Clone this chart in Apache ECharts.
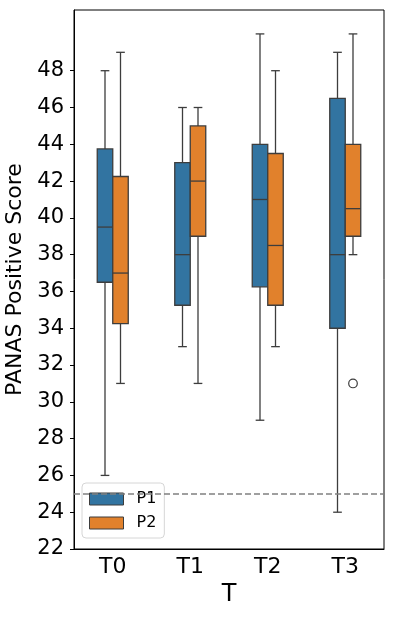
<!DOCTYPE html>
<html>
<head>
<meta charset="utf-8">
<script src="https://cdn.jsdelivr.net/npm/echarts@6/dist/echarts.min.js"></script>
<style>
  html, body { margin: 0; padding: 0; background: #fff; }
  #chart { width: 393px; height: 618px; }
</style>
</head>
<body>
<div id="chart"></div>
<script>
// box stats per time point: [min, q1, median, q3, max]
var categories = ['T0', 'T1', 'T2', 'T3'];
var p1Boxes = [
    [26, 36.5, 39.5, 43.75, 48],
    [33, 35.25, 38, 43, 46],
    [29, 36.25, 41, 44, 50],
    [24, 34, 38, 46.5, 49]
];
var p2Boxes = [
    [31, 34.25, 37, 42.25, 49],
    [31, 39, 42, 45, 46],
    [33, 35.25, 38.5, 43.5, 48],
    [38, 39, 40.5, 44, 50]
];
// outliers: [category index, value, hue index (0 = P1, 1 = P2)]
var outliers = [[3, 31, 1]];
var threshold = 25;
var yTicks = [22, 24, 26, 28, 30, 32, 34, 36, 38, 40, 42, 44, 46, 48];

var blue = '#3274a1';
var orange = '#e1812c';
var lineColor = '#3d3d3d';
var font = 'DejaVu Sans';

function toData(boxes) {
    return boxes.map(function (b, i) { return [i].concat(b); });
}

function boxRenderer(shift) {
    return function (params, api) {
        var cat = api.value(0);
        var band = api.size([1, 0])[0];
        var halfW = band * 0.1;
        var capW = halfW * 0.56;
        var cx = api.coord([cat, 0])[0] + shift * band;
        var yMin = api.coord([cat, api.value(1)])[1];
        var yQ1 = api.coord([cat, api.value(2)])[1];
        var yMed = api.coord([cat, api.value(3)])[1];
        var yQ3 = api.coord([cat, api.value(4)])[1];
        var yMax = api.coord([cat, api.value(5)])[1];
        var ls = { stroke: lineColor, lineWidth: 1.3 };
        return {
            type: 'group',
            children: [
                { type: 'line', shape: { x1: cx, y1: yQ1, x2: cx, y2: yMin }, style: ls },
                { type: 'line', shape: { x1: cx, y1: yQ3, x2: cx, y2: yMax }, style: ls },
                { type: 'line', shape: { x1: cx - capW, y1: yMin, x2: cx + capW, y2: yMin }, style: ls },
                { type: 'line', shape: { x1: cx - capW, y1: yMax, x2: cx + capW, y2: yMax }, style: ls },
                {
                    type: 'rect',
                    shape: { x: cx - halfW, y: yQ3, width: halfW * 2, height: yQ1 - yQ3 },
                    style: { fill: api.visual('color'), stroke: lineColor, lineWidth: 1.3 }
                },
                { type: 'line', shape: { x1: cx - halfW, y1: yMed, x2: cx + halfW, y2: yMed }, style: ls }
            ]
        };
    };
}

var chart = echarts.init(document.getElementById('chart'));
var option = {
    animation: false,
    backgroundColor: '#fff',
    textStyle: { fontFamily: font },
    grid: {
        left: 74, right: 9, top: 10, bottom: 69,
        show: true, borderColor: '#000', borderWidth: 1,
        outerBoundsMode: 'none'
    },
    legend: {
        orient: 'vertical',
        left: 82, top: 483,
        padding: [8, 8, 7, 7],
        itemWidth: 34, itemHeight: 12,
        itemGap: 8,
        itemTextGap: 19,
        borderColor: '#d6d6d6', borderWidth: 1, borderRadius: 4,
        backgroundColor: 'rgba(255,255,255,0.8)',
        textStyle: { fontFamily: font, fontSize: 16, color: '#000', padding: [0, 0, 0, 8] },
        data: [
            { name: 'P1', icon: 'rect', itemStyle: { color: blue, borderColor: lineColor, borderWidth: 1 } },
            { name: 'P2', icon: 'rect', itemStyle: { color: orange, borderColor: lineColor, borderWidth: 1 } }
        ]
    },
    xAxis: {
        type: 'category',
        data: categories,
        name: 'T',
        nameLocation: 'middle',
        nameGap: 32,
        nameTextStyle: { fontFamily: font, fontSize: 24, color: '#000' },
        axisLine: { lineStyle: { color: '#000', width: 1 } },
        axisTick: { alignWithLabel: true, length: 4, lineStyle: { color: '#000' } },
        axisLabel: { fontFamily: font, fontSize: 22, color: '#000', margin: 7 },
        splitLine: { show: false }
    },
    yAxis: {
        type: 'value',
        min: 22, max: 51.3,
        name: 'PANAS Positive Score',
        nameLocation: 'middle',
        nameGap: 42,
        nameTextStyle: { fontFamily: font, fontSize: 22, color: '#000' },
        axisLine: { show: true, lineStyle: { color: '#000', width: 1 } },
        axisTick: { show: true, length: 4, customValues: yTicks, lineStyle: { color: '#000' } },
        axisLabel: { fontFamily: font, fontSize: 21, color: '#000', margin: 10, customValues: yTicks },
        splitLine: { show: false }
    },
    series: [
        {
            name: 'P1',
            type: 'custom',
            itemStyle: { color: blue },
            encode: { x: 0, y: [1, 2, 3, 4, 5] },
            renderItem: boxRenderer(-0.1),
            data: toData(p1Boxes),
            markLine: {
                silent: true,
                symbol: 'none',
                label: { show: false },
                lineStyle: { color: '#808080', type: [6, 3], width: 1.5 },
                data: [{ yAxis: threshold }]
            }
        },
        {
            name: 'P2',
            type: 'custom',
            itemStyle: { color: orange },
            encode: { x: 0, y: [1, 2, 3, 4, 5] },
            renderItem: boxRenderer(0.1),
            data: toData(p2Boxes)
        },
        {
            name: 'outliers',
            type: 'custom',
            encode: { x: 0, y: 1 },
            renderItem: function (params, api) {
                var cat = api.value(0);
                var band = api.size([1, 0])[0];
                var shift = api.value(2) === 0 ? -0.1 : 0.1;
                var pt = api.coord([cat, api.value(1)]);
                return {
                    type: 'circle',
                    shape: { cx: pt[0] + shift * band, cy: pt[1], r: 4.3 },
                    style: { fill: '#fff', stroke: lineColor, lineWidth: 1.2 }
                };
            },
            data: outliers
        }
    ]
};
chart.setOption(option);
</script>
</body>
</html>
